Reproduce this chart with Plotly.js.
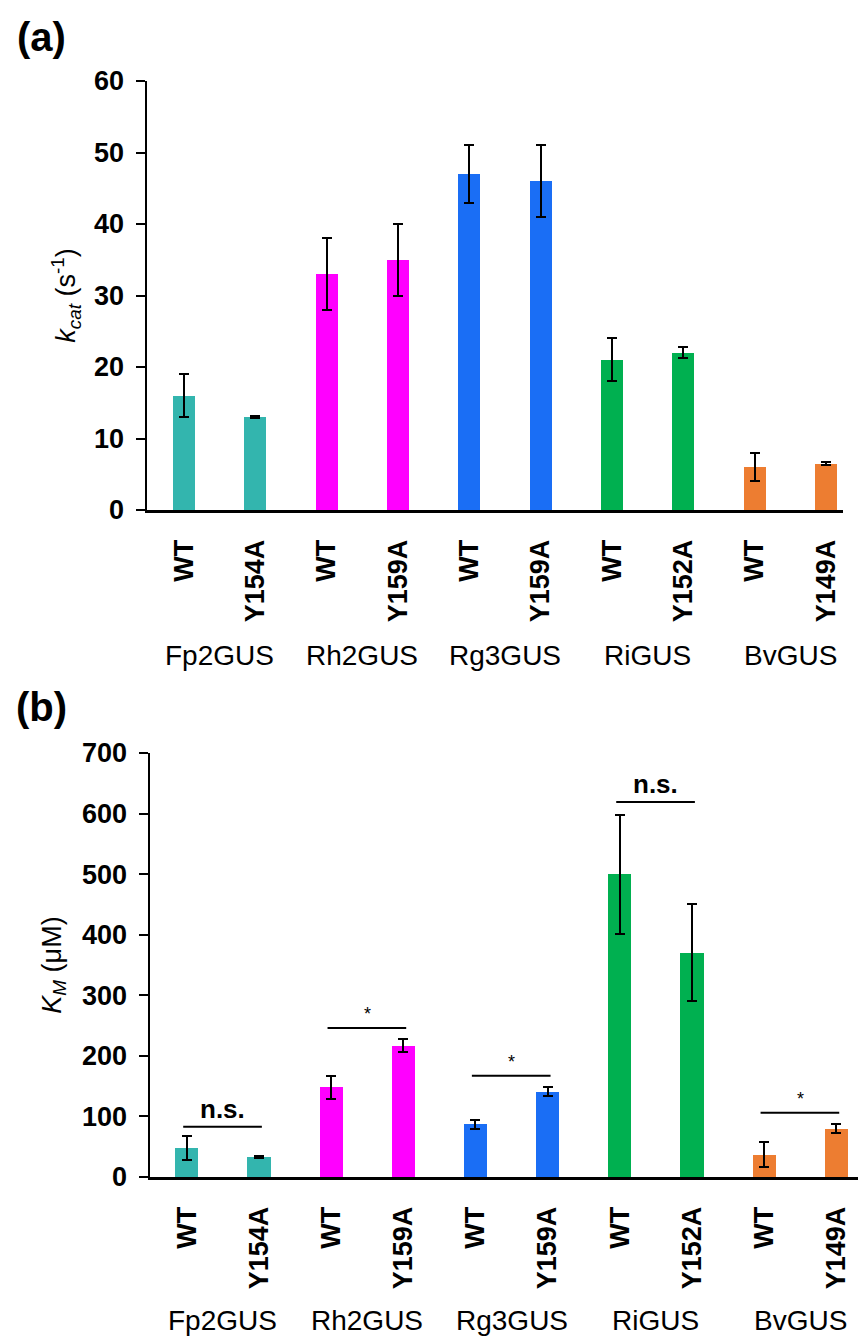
<!DOCTYPE html>
<html>
<head>
<meta charset="utf-8">
<script src="https://cdn.plot.ly/plotly-3.0.1.min.js"></script>
<style>html,body{margin:0;padding:0;background:#fff;}#chart{width:859px;height:1339px;}</style>
</head>
<body>
<div id="chart"></div>
<script>
// ---- data ----
const groups = ['Fp2GUS', 'Rh2GUS', 'Rg3GUS', 'RiGUS', 'BvGUS'];
const groupColors = ['#33B5AE', '#FF00FF', '#1A6EF5', '#00B050', '#ED7D31'];
const variants = ['WT', 'Y154A', 'WT', 'Y159A', 'WT', 'Y159A', 'WT', 'Y152A', 'WT', 'Y149A'];
const kcat = [16, 13, 33, 35, 47, 46, 21, 22, 6, 6.5];
const kcatErr = [3, 0.1, 5, 5, 4, 5, 3, 0.8, 2, 0.15];
const km = [48, 33, 148, 217, 87, 141, 500, 370, 37, 80];
const kmErr = [20, 2, 19, 11, 7, 8, 98, 80, 20, 7];
const bracketGroups = [0, 1, 2, 3, 4];
const bracketY = [83, 246, 167, 619, 106];
const bracketLabels = ['n.s.', '*', '*', 'n.s.', '*'];
const kcatTicks = [0, 10, 20, 30, 40, 50, 60];
const kmTicks = [0, 100, 200, 300, 400, 500, 600, 700];

// ---- build ----
const FONT = 'Liberation Sans, Arial, sans-serif';
const xs = variants.map((_, i) => i);
const barColors = variants.map((_, i) => groupColors[Math.floor(i / 2)]);

const errStyle = {type: 'data', visible: true, color: '#000', thickness: 2, width: 5};

const traces = [
  {type: 'bar', x: xs, y: kcat, xaxis: 'x', yaxis: 'y', width: 0.31,
   marker: {color: barColors}, error_y: Object.assign({array: kcatErr}, errStyle),
   showlegend: false, hoverinfo: 'y'},
  {type: 'bar', x: xs, y: km, xaxis: 'x2', yaxis: 'y2', width: 0.32,
   marker: {color: barColors}, error_y: Object.assign({array: kmErr}, errStyle),
   showlegend: false, hoverinfo: 'y'}
];

const W = 859, H = 1339, L = 140;
const pw = W - L;
function xd(a, b) { return [(a - L) / pw, (b - L) / pw]; }
function yd(top, bottom) { return [(H - bottom) / H, (H - top) / H]; }
function px(x) { return (x - L) / pw; }

const xCommon = {
  tickmode: 'array', tickvals: xs, ticktext: variants, tickangle: -90,
  showline: true, linecolor: '#000', linewidth: 3, ticks: '', zeroline: false,
  showgrid: false, tickfont: {family: FONT, size: 27, color: '#000', weight: 'bold'},
  ticklabelstandoff: 16, automargin: false, fixedrange: true
};
const yCommon = {
  showline: true, linecolor: '#000', linewidth: 2.5, ticks: 'outside', ticklen: 9,
  tickwidth: 2, tickcolor: '#000', showgrid: false, zeroline: false,
  tickfont: {family: FONT, size: 27, color: '#000', weight: 'bold'},
  ticklabelstandoff: 6, automargin: false, fixedrange: true, tickmode: 'array'
};

const layout = {
  width: W, height: H,
  margin: {l: L, r: 0, t: 0, b: 0},
  paper_bgcolor: '#fff', plot_bgcolor: '#fff',
  bargap: 0,
  xaxis: Object.assign({}, xCommon, {domain: xd(147, 843), range: [-0.52, 9.24], anchor: 'y'}),
  yaxis: Object.assign({}, yCommon, {domain: yd(81, 510), range: [0, 60], tickvals: kcatTicks, anchor: 'x',
    title: {text: '<i>k</i><sub><i>cat</i></sub> (s<sup>-1</sup>)', font: {family: FONT, size: 27, color: '#000'}, standoff: 11}}),
  xaxis2: Object.assign({}, xCommon, {domain: xd(150, 858), range: [-0.51, 9.30], anchor: 'y2'}),
  yaxis2: Object.assign({}, yCommon, {domain: yd(753, 1177), range: [0, 700], tickvals: kmTicks, anchor: 'x2',
    title: {text: '<i>K</i><sub><i>M</i></sub> (μM)', font: {family: FONT, size: 27, color: '#000'}, standoff: 13}}),
  shapes: [],
  annotations: []
};

// group labels
groups.forEach((g, i) => {
  layout.annotations.push({text: g, x: 2 * i + 0.5, xref: 'x', y: (H - 655) / H, yref: 'paper',
    showarrow: false, font: {family: FONT, size: 28, color: '#000'}, xanchor: 'center', yanchor: 'middle'});
  layout.annotations.push({text: g, x: 2 * i + 0.5, xref: 'x2', y: (H - 1320) / H, yref: 'paper',
    showarrow: false, font: {family: FONT, size: 28, color: '#000'}, xanchor: 'center', yanchor: 'middle'});
});

// significance brackets
bracketGroups.forEach((g, k) => {
  layout.shapes.push({type: 'line', xref: 'x2', yref: 'y2', x0: 2 * g - 0.05, x1: 2 * g + 1.04,
    y0: bracketY[k], y1: bracketY[k], line: {color: '#000', width: 2}});
  const ns = bracketLabels[k] !== '*';
  layout.annotations.push({text: bracketLabels[k], x: 2 * g + 0.5, xref: 'x2', y: bracketY[k], yref: 'y2',
    showarrow: false, xanchor: 'center', yanchor: 'bottom', yshift: ns ? 1 : 2,
    font: {family: FONT, size: ns ? 26 : 18, color: '#000', weight: ns ? 'bold' : 'normal'}});
});

// panel labels
layout.annotations.push({text: '(a)', x: px(42), y: (H - 37) / H, xref: 'paper', yref: 'paper',
  showarrow: false, xanchor: 'center', yanchor: 'middle', font: {family: FONT, size: 40, color: '#000', weight: 'bold'}});
layout.annotations.push({text: '(b)', x: px(42), y: (H - 707) / H, xref: 'paper', yref: 'paper',
  showarrow: false, xanchor: 'center', yanchor: 'middle', font: {family: FONT, size: 40, color: '#000', weight: 'bold'}});

Plotly.newPlot('chart', traces, layout, {displayModeBar: false, staticPlot: true});
</script>
</body>
</html>
